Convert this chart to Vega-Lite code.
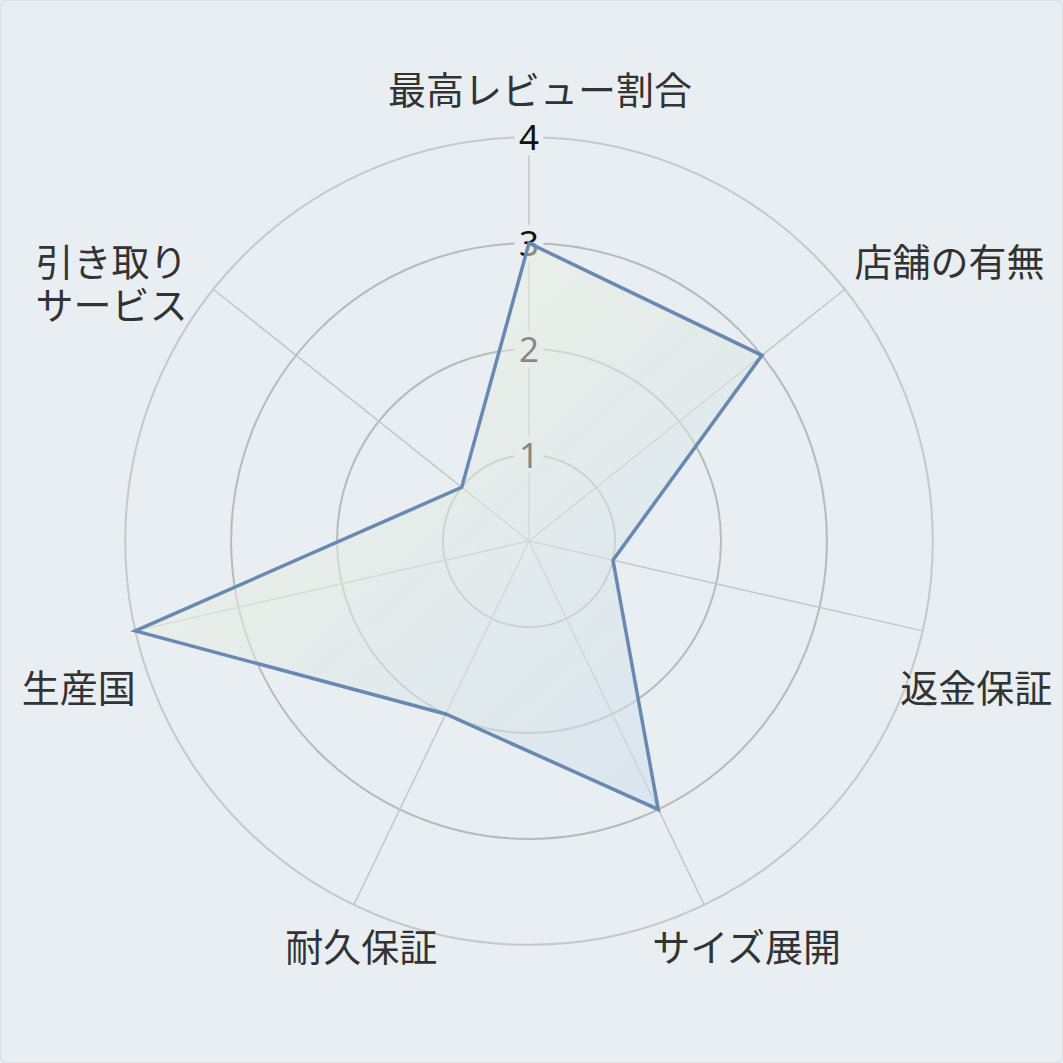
{
  "$schema": "https://vega.github.io/schema/vega-lite/v6.json",
  "width": 1063,
  "height": 1063,
  "autosize": "none",
  "padding": 0,
  "background": "#e8eef2",
  "config": {"view": {"stroke": "#dbe3e8", "strokeWidth": 2, "cornerRadius": 8}},
  "datasets": {
    "scores": [
      {"axis": "最高レビュー割合", "idx": 0, "score": 3},
      {"axis": "店舗の有無", "idx": 1, "score": 3},
      {"axis": "返金保証", "idx": 2, "score": 1},
      {"axis": "サイズ展開", "idx": 3, "score": 3},
      {"axis": "耐久保証", "idx": 4, "score": 2},
      {"axis": "生産国", "idx": 5, "score": 4},
      {"axis": "引き取り\nサービス", "idx": 6, "score": 1}
    ],
    "rings": [{"tick": 1}, {"tick": 2}, {"tick": 3}, {"tick": 4}]
  },
  "encoding": {
    "x": {"field": "x", "type": "quantitative", "scale": {"domain": [-4.995, 5.042], "nice": false, "zero": false}, "axis": null},
    "y": {"field": "y", "type": "quantitative", "scale": {"domain": [-4.929, 5.109], "nice": false, "zero": false}, "axis": null}
  },
  "layer": [
    {
      "data": {"name": "rings"},
      "transform": [
        {"calculate": "datum.tick - 0.187", "as": "r"},
        {"calculate": "0", "as": "x"},
        {"calculate": "0", "as": "y"}
      ],
      "mark": {"type": "point", "shape": "circle", "filled": false, "opacity": 1, "strokeWidth": 2},
      "encoding": {
        "size": {"field": "r", "type": "quantitative", "scale": {"type": "pow", "exponent": 2, "domain": [0, 4], "range": [0, 717748]}, "legend": null},
        "stroke": {"condition": {"test": "datum.tick == 4", "value": "#c8c8c8"}, "value": "#bababa"}
      }
    },
    {
      "data": {"name": "scores"},
      "transform": [
        {"calculate": "datum.idx * 2 * PI / 7", "as": "t"},
        {"calculate": "3.813 * sin(datum.t)", "as": "x"},
        {"calculate": "3.813 * cos(datum.t)", "as": "y"}
      ],
      "mark": {"type": "rule", "stroke": "#c6c6c6", "strokeWidth": 1.5},
      "encoding": {"x2": {"datum": 0}, "y2": {"datum": 0}}
    },
    {
      "data": {"name": "rings"},
      "transform": [
        {"calculate": "datum.tick - 0.187", "as": "y"},
        {"calculate": "0", "as": "x"}
      ],
      "mark": {"type": "point", "shape": "M-0.8,-1H0.8V1H-0.8Z", "filled": true, "fill": "#e8eef2", "opacity": 1, "strokeWidth": 0, "size": 1296},
      "encoding": {}
    },
    {
      "data": {"name": "rings"},
      "transform": [
        {"calculate": "datum.tick - 0.187", "as": "y"},
        {"calculate": "0", "as": "x"}
      ],
      "mark": {"type": "text", "font": "Noto Sans", "fontSize": 35, "color": "#111111", "align": "center", "baseline": "middle", "dy": 2},
      "encoding": {"text": {"field": "tick", "type": "nominal"}}
    },
    {
      "data": {"name": "scores"},
      "transform": [
        {"calculate": "datum.idx * 2 * PI / 7", "as": "t"},
        {"calculate": "(datum.score - 0.187) * sin(datum.t)", "as": "x"},
        {"calculate": "(datum.score - 0.187) * cos(datum.t)", "as": "y"}
      ],
      "mark": {
        "type": "line",
        "interpolate": "linear-closed",
        "stroke": "#6889b2",
        "strokeWidth": 3.5,
        "fill": {
          "gradient": "linear",
          "x1": 0, "y1": 0, "x2": 1, "y2": 1,
          "stops": [
            {"offset": 0, "color": "#f8f8d8"},
            {"offset": 1, "color": "#cadcf0"}
          ]
        },
        "fillOpacity": 0.55
      },
      "encoding": {"order": {"field": "idx", "type": "quantitative"}}
    },
    {
      "data": {"name": "scores"},
      "transform": [
        {"filter": "datum.idx == 0"},
        {"calculate": "datum.idx * 2 * PI / 7", "as": "t"},
        {"calculate": "4.249 * sin(datum.t)", "as": "x"},
        {"calculate": "4.249 * cos(datum.t)", "as": "y"}
      ],
      "mark": {"type": "text", "font": "Noto Sans CJK JP", "fontSize": 38, "color": "#333333", "align": "center", "baseline": "middle", "dx": 11, "dy": 2},
      "encoding": {"text": {"field": "axis", "type": "nominal"}}
    },
    {
      "data": {"name": "scores"},
      "transform": [
        {"filter": "datum.idx == 3 || datum.idx == 4"},
        {"calculate": "datum.idx * 2 * PI / 7", "as": "t"},
        {"calculate": "4.193 * sin(datum.t)", "as": "x"},
        {"calculate": "4.193 * cos(datum.t)", "as": "y"}
      ],
      "mark": {"type": "text", "font": "Noto Sans CJK JP", "fontSize": 38, "color": "#333333", "align": "center", "baseline": "middle", "dx": 25, "dy": 9},
      "encoding": {"text": {"field": "axis", "type": "nominal"}}
    },
    {
      "data": {"name": "scores"},
      "transform": [
        {"filter": "datum.idx == 1 || datum.idx == 6"},
        {"calculate": "datum.idx * 2 * PI / 7", "as": "t"},
        {"calculate": "4.028 * sin(datum.t)", "as": "x"},
        {"calculate": "4.028 * cos(datum.t)", "as": "y"}
      ],
      "mark": {"type": "text", "font": "Noto Sans CJK JP", "fontSize": 38, "color": "#333333", "align": {"expr": "datum.x > 0 ? 'left' : 'right'"}, "baseline": "middle", "lineBreak": "\n", "lineHeight": 43, "dx": -8, "dy": -10},
      "encoding": {"text": {"field": "axis", "type": "nominal"}}
    },
    {
      "data": {"name": "scores"},
      "transform": [
        {"filter": "datum.idx == 2 || datum.idx == 5"},
        {"calculate": "datum.idx * 2 * PI / 7", "as": "t"},
        {"calculate": "3.702 * sin(datum.t)", "as": "x"},
        {"calculate": "3.702 * cos(datum.t)", "as": "y"}
      ],
      "mark": {"type": "text", "font": "Noto Sans CJK JP", "fontSize": 38, "color": "#333333", "align": {"expr": "datum.x > 0 ? 'left' : 'right'"}, "baseline": "middle", "dx": -11, "dy": 63},
      "encoding": {"text": {"field": "axis", "type": "nominal"}}
    }
  ]
}
